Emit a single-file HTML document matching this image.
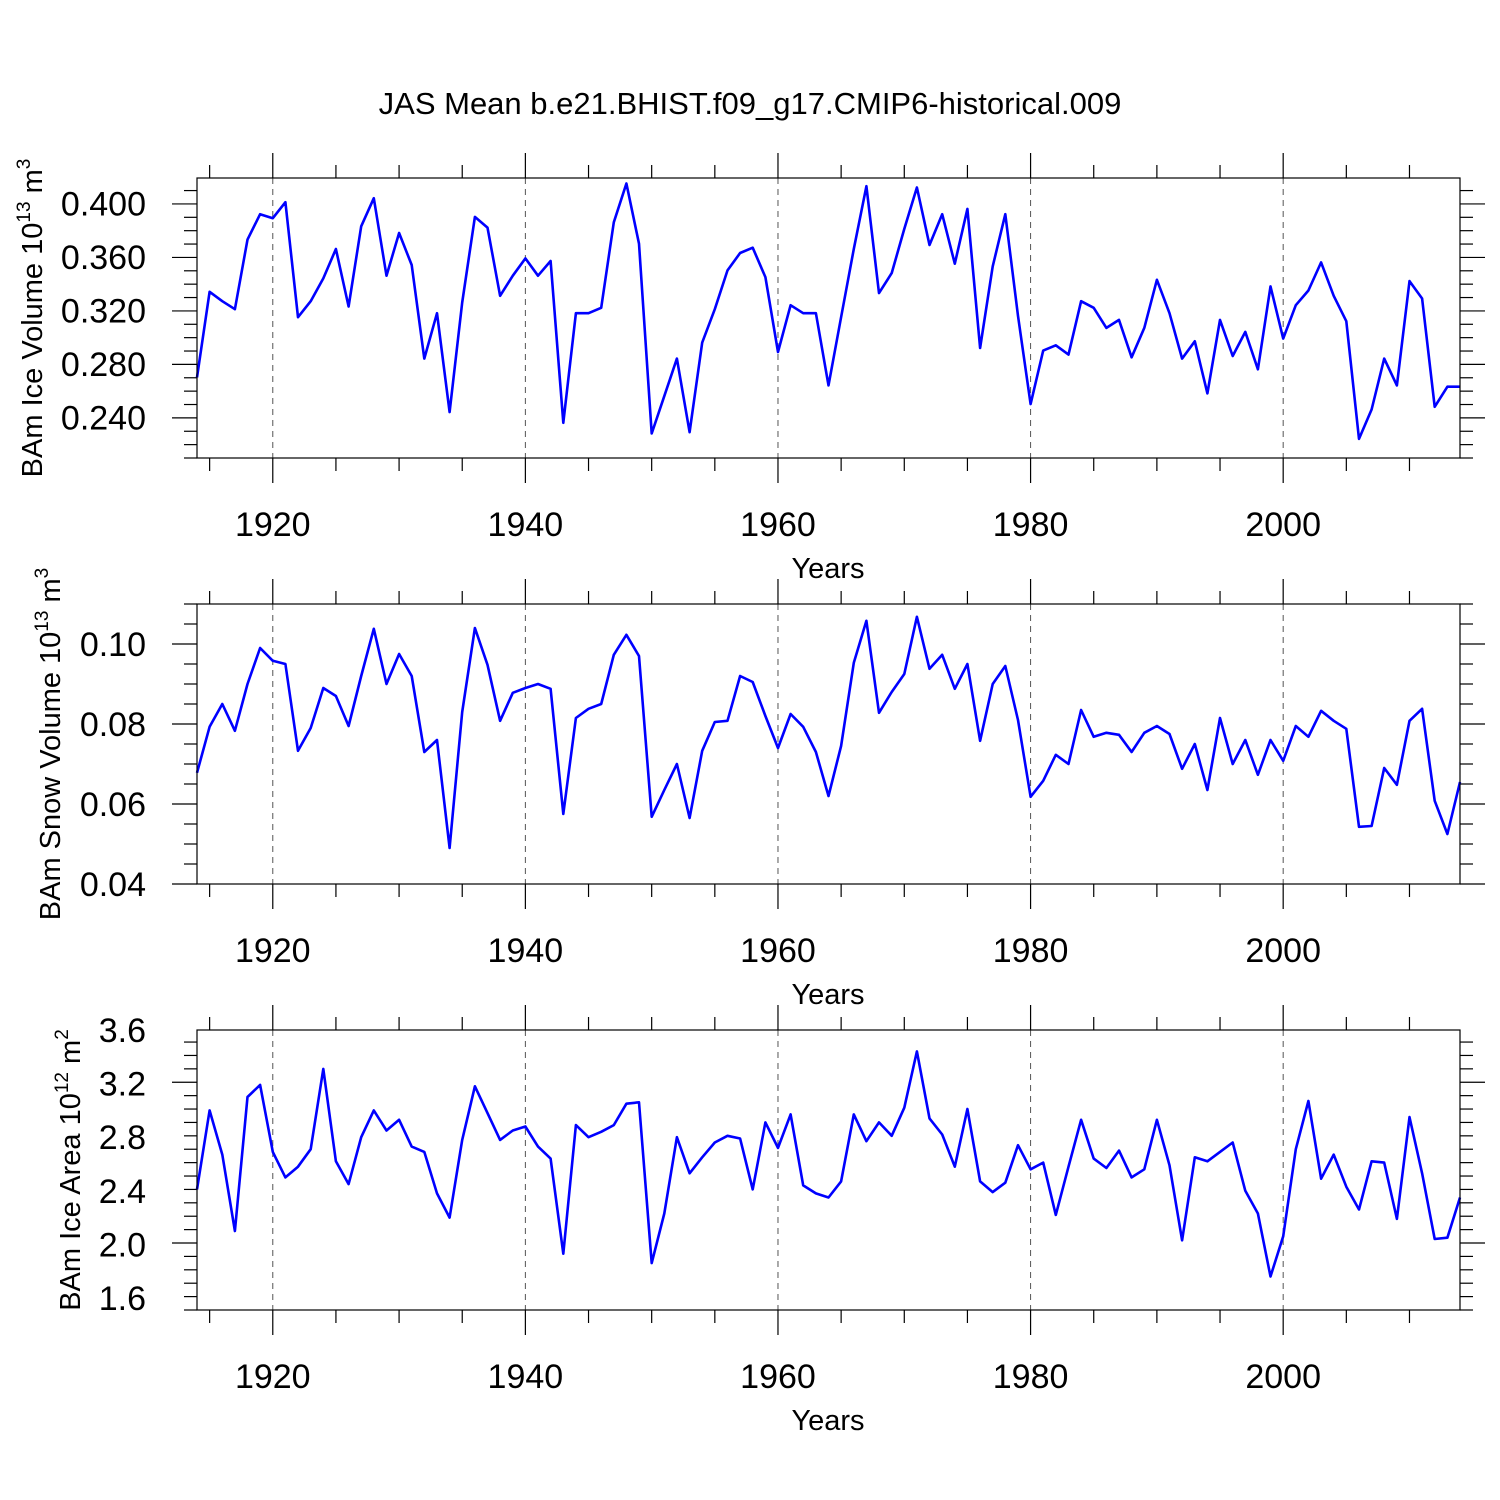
<!DOCTYPE html>
<html><head><meta charset="utf-8"><style>
html,body{margin:0;padding:0;background:#fff;}
svg{display:block;font-family:"Liberation Sans",Arial,sans-serif;}
</style></head><body>
<svg id="chart" width="1500" height="1500" viewBox="0 0 1500 1500" xmlns="http://www.w3.org/2000/svg">
<rect width="1500" height="1500" fill="#fff"/>
<text x="750" y="114" font-size="31" text-anchor="middle">JAS Mean b.e21.BHIST.f09_g17.CMIP6-historical.009</text>
</svg>
<script>
const years = [];
for (let y = 1914; y <= 2014; y++) years.push(y);
const iceVolume = [0.270,0.334,0.327,0.321,0.373,0.392,0.389,0.401,0.315,0.327,0.344,0.366,0.323,0.383,0.404,0.346,0.378,0.354,0.284,0.318,0.244,0.326,0.390,0.382,0.331,0.346,0.359,0.346,0.357,0.236,0.318,0.318,0.322,0.386,0.415,0.370,0.228,0.256,0.284,0.229,0.296,0.321,0.350,0.363,0.367,0.345,0.289,0.324,0.318,0.318,0.264,0.315,0.366,0.413,0.333,0.348,0.381,0.412,0.369,0.392,0.355,0.396,0.292,0.353,0.392,0.316,0.250,0.290,0.294,0.287,0.327,0.322,0.307,0.313,0.285,0.307,0.343,0.318,0.284,0.297,0.258,0.313,0.286,0.304,0.276,0.338,0.299,0.324,0.335,0.356,0.331,0.312,0.224,0.246,0.284,0.264,0.342,0.329,0.248,0.263,0.263];
const snowVolume = [0.0678,0.0793,0.085,0.0783,0.090,0.099,0.0958,0.095,0.0733,0.079,0.089,0.087,0.0795,0.092,0.1038,0.090,0.0975,0.092,0.073,0.076,0.049,0.083,0.104,0.0948,0.0808,0.0878,0.089,0.090,0.0888,0.0575,0.0815,0.0838,0.085,0.0973,0.1023,0.097,0.0568,0.0635,0.070,0.0565,0.0733,0.0805,0.0808,0.092,0.0905,0.082,0.074,0.0825,0.0793,0.073,0.062,0.0745,0.0953,0.1058,0.0828,0.088,0.0925,0.1068,0.0938,0.0973,0.0888,0.095,0.0758,0.090,0.0945,0.081,0.0618,0.0658,0.0723,0.070,0.0835,0.0768,0.0778,0.0773,0.073,0.0778,0.0795,0.0775,0.0688,0.075,0.0635,0.0815,0.070,0.076,0.0673,0.076,0.0708,0.0795,0.0768,0.0833,0.0808,0.0788,0.0543,0.0545,0.069,0.0648,0.0808,0.0838,0.0608,0.0525,0.0655];
const iceArea = [2.41,3.00,2.67,2.10,3.10,3.19,2.69,2.50,2.58,2.71,3.31,2.62,2.45,2.80,3.00,2.85,2.93,2.73,2.69,2.38,2.20,2.78,3.18,2.98,2.78,2.85,2.88,2.73,2.64,1.93,2.89,2.80,2.84,2.89,3.05,3.06,1.86,2.23,2.80,2.53,2.65,2.76,2.81,2.79,2.41,2.91,2.72,2.97,2.44,2.38,2.35,2.47,2.97,2.77,2.91,2.81,3.02,3.44,2.94,2.82,2.58,3.01,2.47,2.39,2.46,2.74,2.56,2.61,2.22,2.58,2.93,2.64,2.57,2.70,2.50,2.56,2.93,2.59,2.03,2.65,2.62,2.69,2.76,2.40,2.23,1.76,2.06,2.71,3.07,2.49,2.67,2.43,2.26,2.62,2.61,2.19,2.95,2.53,2.04,2.05,2.35];
const xTickLabels = ["1920","1940","1960","1980","2000"];
const iceVolTicks = ["0.240","0.280","0.320","0.360","0.400"];
const snowTicks = ["0.04","0.06","0.08","0.10"];
const areaTicks = ["1.6","2.0","2.4","2.8","3.2","3.6"];

const NS = "http://www.w3.org/2000/svg";
const svg = document.getElementById('chart');
function mk(tag, attrs, parent) {
  const e = document.createElementNS(NS, tag);
  for (const k in attrs) e.setAttribute(k, attrs[k]);
  (parent || svg).appendChild(e);
  return e;
}
const X0 = 197, X1 = 1460, Y0YEAR = 1914, PXY = (X1 - X0) / 100;
function xScale(y) { return X0 + (y - Y0YEAR) * PXY; }

function panel(cfg) {
  const g = mk('g', {});
  
  
  const top = cfg.top, bot = cfg.top + 280;
  const yScale = v => bot - (v - cfg.min) / (cfg.max - cfg.min) * 280;
  xTickLabels.forEach(t => {
    const x = xScale(+t);
    const l = mk('line', {x1: x, x2: x, y1: top, y2: bot, stroke: '#555', 'stroke-width': 1, 'stroke-dasharray': '6,5'}, g);
    
    
  });
  for (let yr = 1915; yr <= 2010; yr += 5) {
    const x = xScale(yr), major = yr % 20 === 0, L = major ? 25 : 13;
    mk('line', {x1: x, x2: x, y1: bot, y2: bot + L, stroke: '#000', 'stroke-width': 1.2}, g);
    mk('line', {x1: x, x2: x, y1: top, y2: top - L, stroke: '#000', 'stroke-width': 1.2}, g);
  }
  xTickLabels.forEach(t => {
    const tx = mk('text', {x: xScale(+t), y: bot + 78, 'font-size': 34, 'text-anchor': 'middle'}, g);
    tx.textContent = t;
    
    
  });
  const xt = mk('text', {x: 828, y: bot + 120, 'font-size': 29, 'text-anchor': 'middle'}, g);
  xt.textContent = 'Years';
  
  
  const nMinor = Math.round((cfg.max - cfg.min) / cfg.minor);
  for (let i = 0; i <= nMinor; i++) {
    const v = cfg.min + i * cfg.minor;
    const y = yScale(v);
    if (y < top - 0.5 || y > bot + 0.5) continue;
    const isMajor = cfg.ticks.some(t => Math.abs(+t - v) < cfg.minor / 10);
    const L = isMajor ? 25 : 13;
    mk('line', {x1: X0, x2: X0 - L, y1: y, y2: y, stroke: '#000', 'stroke-width': 1.2}, g);
    mk('line', {x1: X1, x2: X1 + L, y1: y, y2: y, stroke: '#000', 'stroke-width': 1.2}, g);
  }
  cfg.ticks.forEach(t => {
    const tx = mk('text', {x: 146, y: yScale(+t) + 12, 'font-size': 34, 'text-anchor': 'end'}, g);
    tx.textContent = t;
    
    
  });
  const yt = mk('text', {x: 0, y: 0, 'font-size': 29, 'text-anchor': 'middle', transform: `translate(${cfg.titleX},${top + 140}) rotate(-90)`}, g);
  
  
  const s1 = mk('tspan', {}, yt); s1.textContent = cfg.title + ' 10';
  const s2 = mk('tspan', {'font-size': 19, dy: -12}, yt); s2.textContent = cfg.exp;
  const s3 = mk('tspan', {dy: 12}, yt); s3.textContent = ' m';
  const s4 = mk('tspan', {'font-size': 19, dy: -12}, yt); s4.textContent = cfg.unitExp;
  const pts = cfg.data.map((v, i) => xScale(years[i]).toFixed(1) + ',' + yScale(v).toFixed(1)).join(' ');
  const pl = mk('polyline', {points: pts, fill: 'none', stroke: '#0000ff', 'stroke-width': 2.6, 'stroke-linejoin': 'round'}, g);
  
  
  const b = mk('rect', {x: X0, y: top, width: X1 - X0, height: 280, fill: 'none', stroke: '#000', 'stroke-width': 1.2}, g);
  
  
}
panel({name: 'ice-volume-panel', top: 178, min: 0.2097, max: 0.4191, minor: 0.01, ticks: iceVolTicks, data: iceVolume, title: 'BAm Ice Volume', exp: '13', unitExp: '3', titleX: 42});
panel({name: 'snow-volume-panel', top: 604, min: 0.04, max: 0.11, minor: 0.005, ticks: snowTicks, data: snowVolume, title: 'BAm Snow Volume', exp: '13', unitExp: '3', titleX: 60});
panel({name: 'ice-area-panel', top: 1030, min: 1.51, max: 3.6, minor: 0.1, ticks: areaTicks, data: iceArea, title: 'BAm Ice Area', exp: '12', unitExp: '2', titleX: 80});
</script>
</body></html>
